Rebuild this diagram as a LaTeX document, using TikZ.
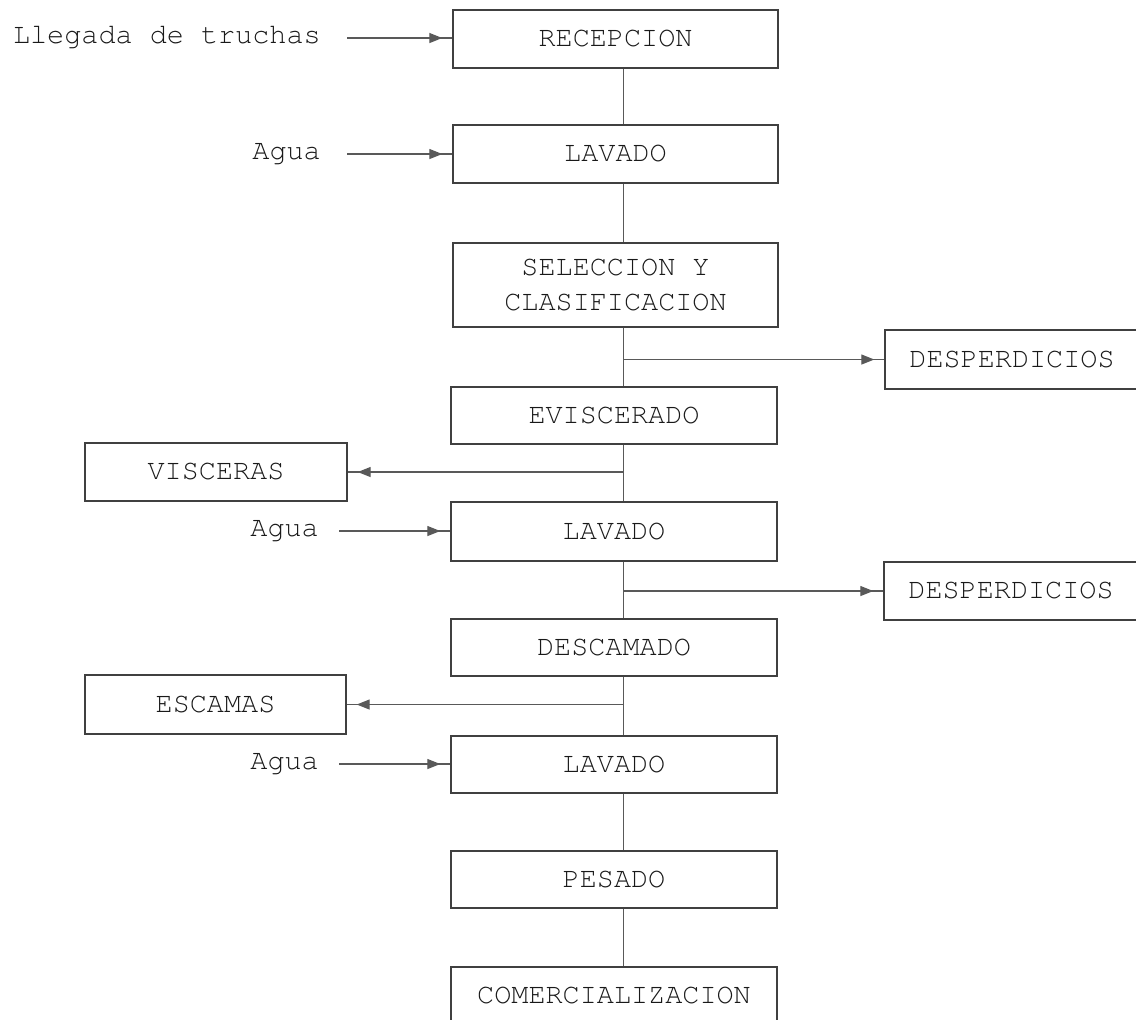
\documentclass[tikz,border=0pt]{standalone}
\usepackage{fontspec}
\setmonofont{TeX Gyre Cursor}
\usetikzlibrary{arrows.meta,decorations.markings}
\tikzset{
  txt/.style={font=\ttfamily\fontsize{28.5}{35}\selectfont, text=black!90},
  box/.style={txt, draw=black!75, line width=1.4pt, minimum width=326pt, minimum height=58pt, inner sep=0pt, align=center},
  lbl/.style={txt, anchor=east, inner sep=0pt},
  conn/.style={draw=black!65, line width=1.3pt},
  feed/.style={conn, postaction={decorate}, decoration={markings, mark=at position -10pt with {\arrow[black!65]{Triangle[length=13pt,width=10pt]}}}}
}
\begin{document}
\begin{tikzpicture}[x=1pt,y=-1pt]
\clip (0,0) rectangle (1136,1020);
\useasboundingbox (0,0) rectangle (1136,1020);
\coordinate (spine) at (623.5,0);
% main column
\node[box, minimum width=325pt] (rec) at (615.5,39) {RECEPCION};
\node[box, minimum width=325pt] (lav1) at (615.5,154) {LAVADO};
\node[box, minimum width=325pt, minimum height=84pt] (sel) at (615.5,285) {SELECCION Y\\CLASIFICACION};
\node[box, minimum height=57pt] (evi) at (614,415.5) {EVISCERADO};
\node[box, minimum height=59pt] (lav2) at (614,531.5) {LAVADO};
\node[box, minimum height=57pt] (des) at (614,647.5) {DESCAMADO};
\node[box, minimum height=57pt] (lav3) at (614,764.5) {LAVADO};
\node[box, minimum height=57pt] (pes) at (614,879.5) {PESADO};
\node[box] (com) at (614,996) {COMERCIALIZACION};
% side boxes
\node[box, minimum width=254pt, minimum height=59pt] (dp1) at (1012,359.5) {DESPERDICIOS};
\node[box, minimum width=254pt, minimum height=58pt] (dp2) at (1011,591) {DESPERDICIOS};
\node[box, minimum width=262pt, minimum height=58pt] (vis) at (216,472) {VISCERAS};
\node[box, minimum width=261pt, minimum height=59pt] (esc) at (215.5,704.5) {ESCAMAS};
% inputs
\node[lbl] (ll) at (321,38) {Llegada de truchas};
\node[lbl] (ag1) at (321,154) {Agua};
\node[lbl] (ag2) at (319,531) {Agua};
\node[lbl] (ag3) at (319,764) {Agua};
% spine connectors
\draw[conn] (rec.south -| spine) -- (lav1.north -| spine);
\draw[conn] (lav1.south -| spine) -- (sel.north -| spine);
\draw[conn] (sel.south -| spine) -- (evi.north -| spine);
\draw[conn] (evi.south -| spine) -- (lav2.north -| spine);
\draw[conn] (lav2.south -| spine) -- (des.north -| spine);
\draw[conn] (des.south -| spine) -- (lav3.north -| spine);
\draw[conn] (lav3.south -| spine) -- (pes.north -| spine);
\draw[conn] (pes.south -| spine) -- (com.north -| spine);
% branches
\draw[feed] (spine |- dp1) -- (dp1.west);
\draw[feed] (spine |- dp2) -- (dp2.west);
\draw[feed] (spine |- vis) -- (vis.east);
\draw[feed] (spine |- esc) -- (esc.east);
% input arrows
\draw[feed] ([xshift=26pt]ll.east) -- (rec.west |- ll.east);
\draw[feed] ([xshift=26pt]ag1.east) -- (lav1.west |- ag1.east);
\draw[feed] ([xshift=20pt]ag2.east) -- (lav2.west |- ag2.east);
\draw[feed] ([xshift=20pt]ag3.east) -- (lav3.west |- ag3.east);
\end{tikzpicture}
\end{document}
